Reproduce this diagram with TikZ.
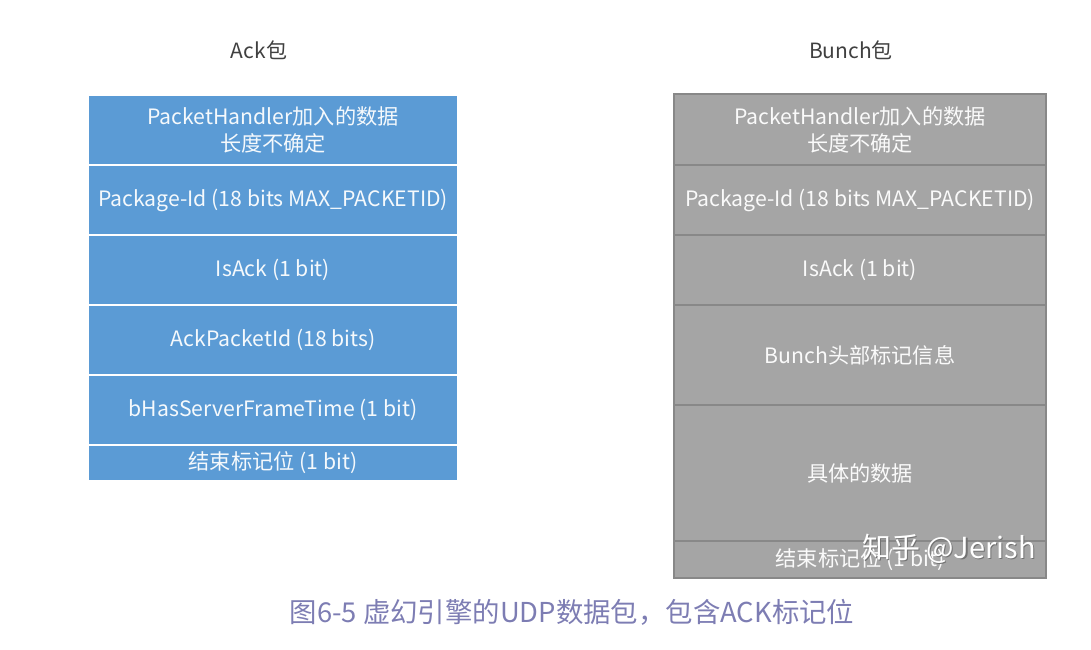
\documentclass[tikz,border=0pt]{standalone}
\usepackage{fontspec}
\setmainfont{Noto Sans CJK SC}
\usetikzlibrary{positioning}
\definecolor{ackblue}{HTML}{5B9BD5}
\definecolor{bungray}{HTML}{A5A5A5}
\definecolor{bunline}{HTML}{888888}
\definecolor{capviolet}{HTML}{7D7DB3}
\definecolor{ttlgray}{HTML}{404040}
\begin{document}
\begin{tikzpicture}[
  x=0.5pt,y=-0.5pt,
  ackrow/.style={rectangle,fill=ackblue,text=white!94!ackblue,
    minimum width=184pt,inner sep=0pt,outer sep=0pt,align=center,
    font=\fontsize{10.6}{13.5}\selectfont},
  bunrow/.style={rectangle,fill=bungray,draw=bunline,line width=0.6pt,
    text=white!94!bungray,minimum width=186pt,inner sep=0pt,outer sep=0pt,
    align=center,font=\fontsize{10.6}{13.5}\selectfont},
  ttl/.style={font=\fontsize{10.5}{12}\selectfont,text=ttlgray},
  caption/.style={font=\fontsize{13.7}{15}\selectfont,text=capviolet}
]
\useasboundingbox (0,0) rectangle (1091,649);

% --- Ack包 (left) ---
\node[ttl] (ackttl) at (259,50) {Ack包};
\node[ackrow,minimum height=34pt] (A1) at (273,130)
  {PacketHandler加入的数据\\长度不确定};
\node[ackrow,minimum height=34pt,below=1pt of A1] (A2)
  {Package-Id (18 bits MAX\_PACKETID)};
\node[ackrow,minimum height=34pt,below=1pt of A2] (A3) {IsAck (1 bit)};
\node[ackrow,minimum height=34pt,below=1pt of A3] (A4) {AckPacketId (18 bits)};
\node[ackrow,minimum height=34pt,below=1pt of A4] (A5)
  {bHasServerFrameTime (1 bit)};
\node[ackrow,minimum height=17pt,below=1pt of A5] (A6) {结束标记位 (1 bit)};

% --- Bunch包 (right) ---
\node[ttl] (bunttl) at (851,50) {Bunch包};
\node[bunrow,minimum height=35.5pt] (B1) at (860,129.5)
  {PacketHandler加入的数据\\长度不确定};
\node[bunrow,minimum height=35pt,below=0pt of B1] (B2)
  {Package-Id (18 bits MAX\_PACKETID)};
\node[bunrow,minimum height=35pt,below=0pt of B2] (B3) {IsAck (1 bit)};
\node[bunrow,minimum height=50pt,below=0pt of B3] (B4) {Bunch头部标记信息};
\node[bunrow,minimum height=68pt,below=0pt of B4] (B5) {具体的数据};
\node[bunrow,minimum height=18.5pt,below=0pt of B5] (B6) {结束标记位 (1 bit)};

% watermark over the last row
\node[anchor=east,font=\fontsize{14.5}{16}\selectfont,text=black!55]
  (markshadow) at ([xshift=-0.9pt,yshift=-4.6pt]B6.north east) {知乎 @Jerish};
\node[anchor=east,font=\fontsize{14.5}{16}\selectfont,text=white]
  (mark) at ([xshift=-1.5pt,yshift=-4pt]B6.north east) {知乎 @Jerish};

% --- caption ---
\node[caption] (cap) at (572,612) {图6-5 虚幻引擎的UDP数据包，包含ACK标记位};
\end{tikzpicture}
\end{document}
